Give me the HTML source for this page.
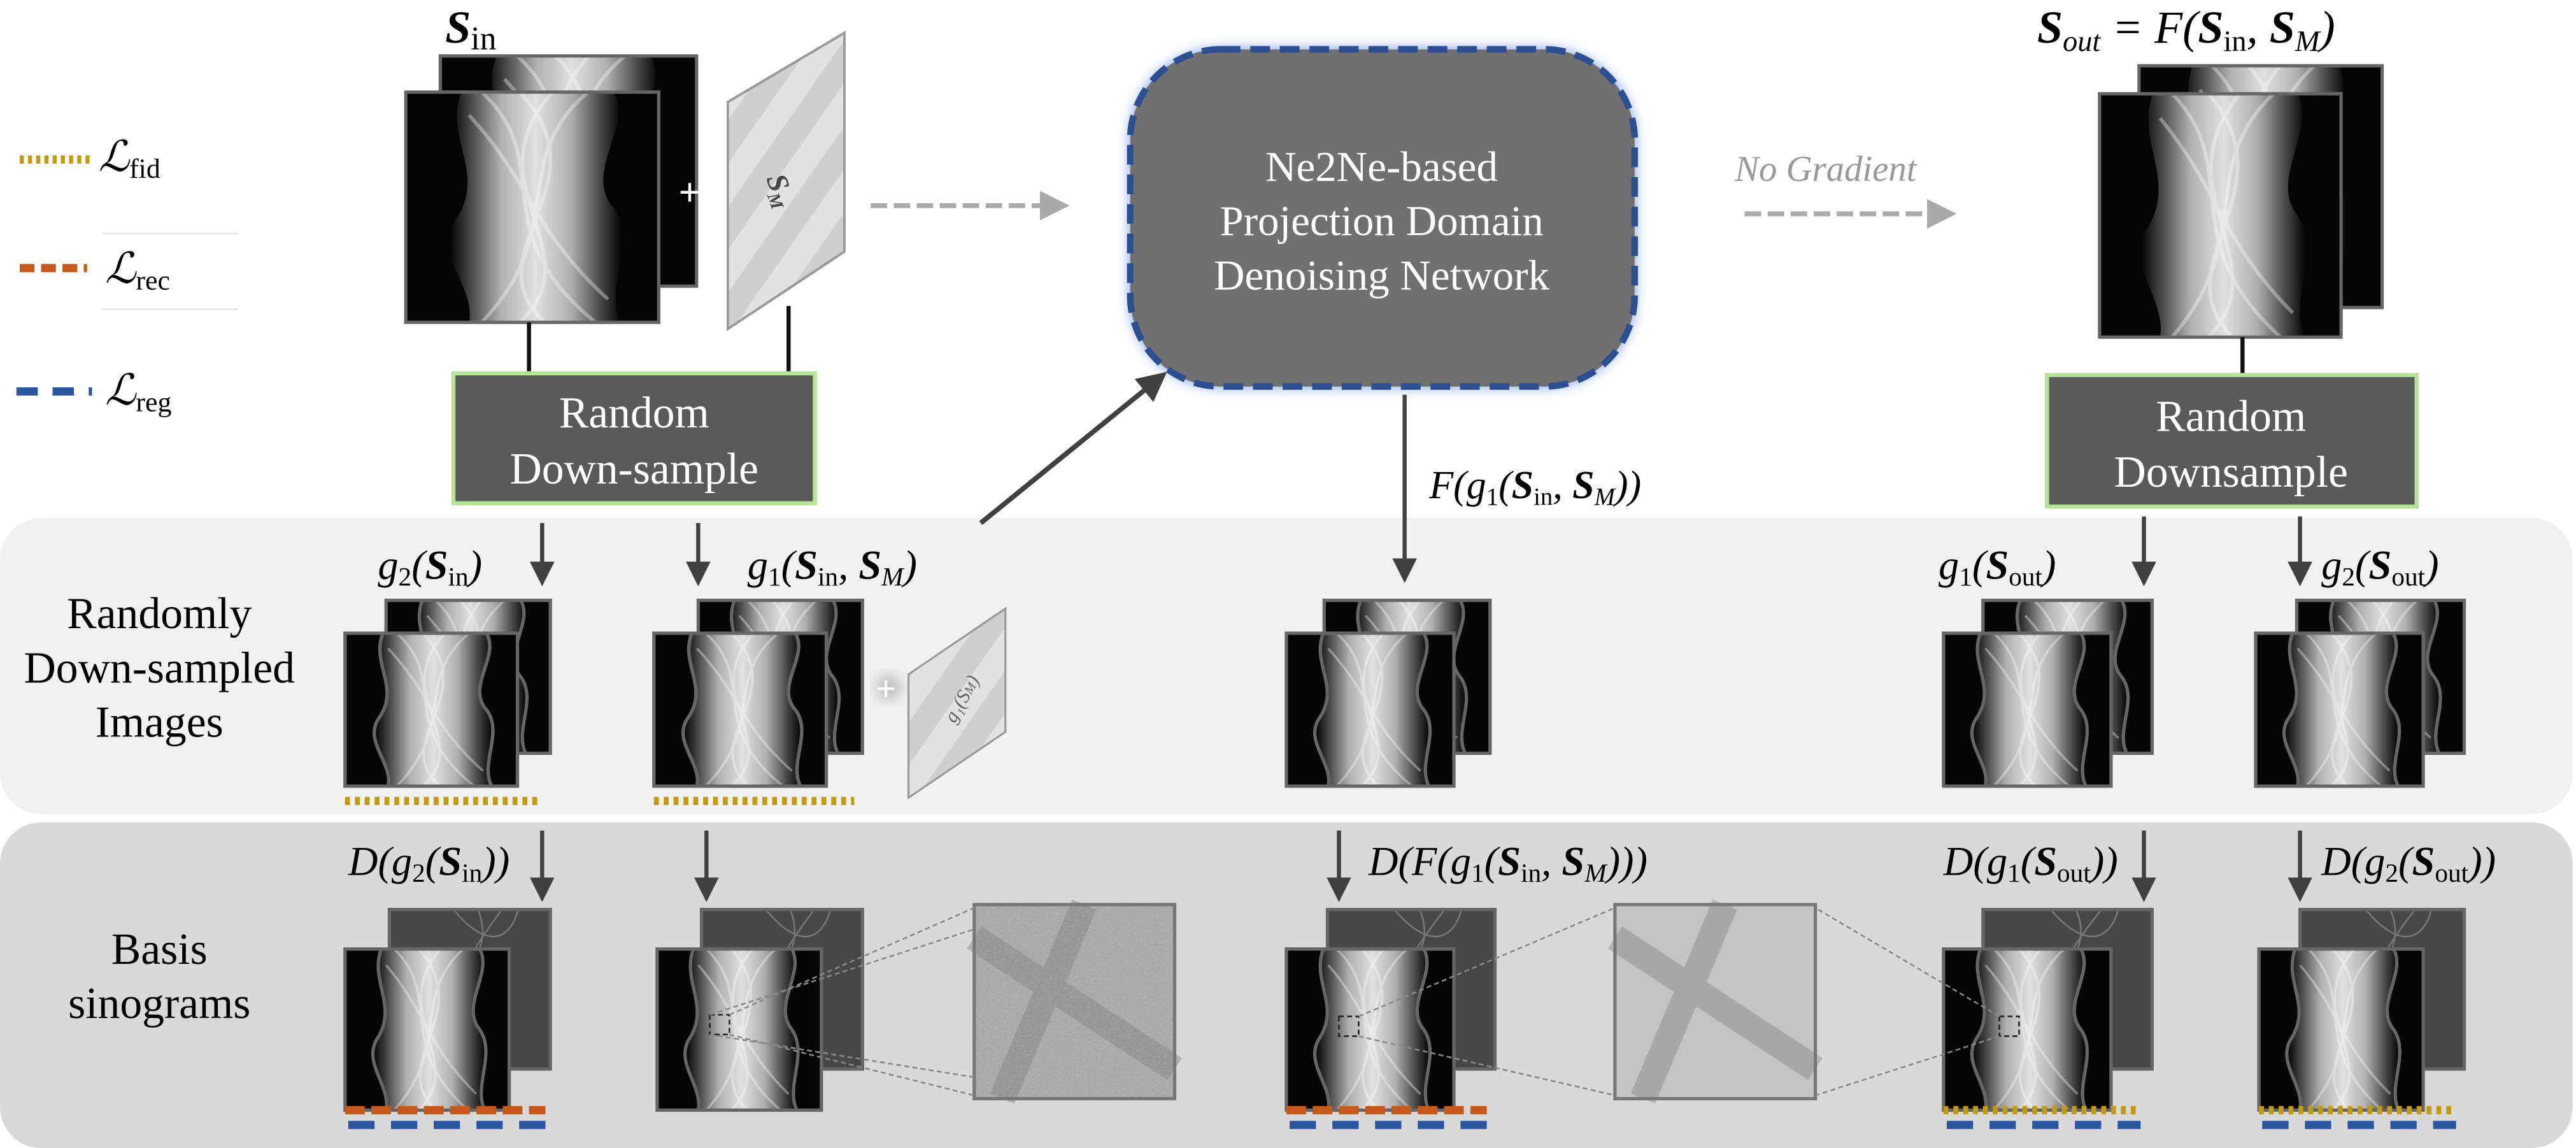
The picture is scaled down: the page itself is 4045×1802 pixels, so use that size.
<!DOCTYPE html>
<html><head><meta charset="utf-8"><style>
html,body{margin:0;padding:0;background:#fff;}
svg{display:block;}
text{font-family:"Liberation Serif","DejaVu Serif",serif;}
</style></head><body>
<svg width="4045" height="1802" viewBox="0 0 1568 698" preserveAspectRatio="none" xmlns="http://www.w3.org/2000/svg">
<defs>
<linearGradient id="band" x1="0" x2="1" y1="0" y2="0">
<stop offset="0" stop-color="#000"/><stop offset="0.12" stop-color="#444"/><stop offset="0.3" stop-color="#b0b0b0"/><stop offset="0.5" stop-color="#e0e0e0"/><stop offset="0.7" stop-color="#b0b0b0"/><stop offset="0.88" stop-color="#444"/><stop offset="1" stop-color="#000"/>
</linearGradient>
<symbol id="sino" viewBox="0 0 100 100" preserveAspectRatio="none">
<rect width="100" height="100" fill="#050505"/>
<path d="M22 0 C15 20 32 35 20 55 C10 70 28 85 25 100 L85 100 C78 85 92 65 82 50 C70 35 90 15 82 0 Z" fill="url(#band)"/>
<path d="M30 0 C60 30 30 60 75 100 M72 0 C40 30 65 60 30 100 M45 0 C80 40 25 70 55 100 M58 0 C25 40 75 70 45 100 M25 10 C50 40 50 60 80 90" stroke="#fff" stroke-opacity="0.35" stroke-width="1.5" fill="none"/>
</symbol>
<symbol id="dark" viewBox="0 0 100 100" preserveAspectRatio="none">
<rect width="100" height="100" fill="#474747"/>
<path d="M40 0 C60 25 75 20 80 0 M55 0 C65 25 45 30 60 40 M70 0 C55 20 50 30 45 40" stroke="#777" stroke-width="1" fill="none"/>
</symbol>
<pattern id="stripes" width="30" height="30" patternUnits="userSpaceOnUse" patternTransform="rotate(35)">
<rect width="30" height="30" fill="#cfcfcf"/><rect width="15" height="30" fill="#e2e2e2"/>
</pattern>
<filter id="glow" x="-20%" y="-20%" width="140%" height="140%"><feGaussianBlur stdDeviation="4"/></filter>
<filter id="noise"><feTurbulence type="fractalNoise" baseFrequency="0.9" numOctaves="2"/><feColorMatrix type="saturate" values="0"/><feComponentTransfer><feFuncA type="table" tableValues="0 0.35"/></feComponentTransfer><feComposite in2="SourceGraphic" operator="in"/></filter>
<marker id="ah" markerWidth="6" markerHeight="6" refX="5" refY="3" orient="auto"><path d="M0 0 L6 3 L0 6 Z" fill="#404040"/></marker>
<marker id="ahg" markerWidth="6" markerHeight="6" refX="5" refY="3" orient="auto"><path d="M0 0 L6 3 L0 6 Z" fill="#aaa"/></marker>
</defs>

<rect x="0" y="315" width="1566" height="180" rx="25" fill="#f1f1f1"/>
<rect x="0" y="500" width="1566" height="198" rx="25" fill="#d9d9d9"/>

<g>
<line x1="12" y1="97" x2="56" y2="97" stroke="#c49a12" stroke-width="5" stroke-dasharray="2.5 2.5"/>
<text x="60" y="104" font-size="26" font-style="italic">ℒ<tspan font-size="17" font-style="normal" dy="4">fid</tspan></text>
<line x1="12" y1="163" x2="53" y2="163" stroke="#c5581b" stroke-width="5" stroke-dasharray="9 4"/>
<line x1="62" y1="142" x2="145" y2="142" stroke="#ddd" stroke-width="0.8"/>
<line x1="62" y1="188" x2="145" y2="188" stroke="#ddd" stroke-width="0.8"/>
<text x="64" y="172" font-size="26" font-style="italic">ℒ<tspan font-size="17" font-style="normal" dy="4">rec</tspan></text>
<line x1="10" y1="238" x2="56" y2="238" stroke="#2c55a0" stroke-width="5" stroke-dasharray="13 9"/>
<text x="64" y="246" font-size="26" font-style="italic">ℒ<tspan font-size="17" font-style="normal" dy="4">reg</tspan></text>
</g>

<text x="271" y="26" font-size="28" font-weight="bold" font-style="italic">S<tspan font-size="20" font-weight="normal" font-style="normal" dy="4">in</tspan></text>
<g>
<use href="#sino" x="268" y="34" width="156" height="140"/>
<rect x="268" y="34" width="156" height="140" fill="none" stroke="#666" stroke-width="2"/>
<use href="#sino" x="247" y="56" width="154" height="140"/>
<rect x="247" y="56" width="154" height="140" fill="none" stroke="#666" stroke-width="2"/>
</g>
<text x="413" y="125" font-size="24" fill="#fff" font-weight="bold" font-family="Liberation Sans">+</text>
<g>
<polygon points="443,62 514,20 514,153 443,200" fill="url(#stripes)" stroke="#999" stroke-width="1.5"/>
<text x="468" y="118" font-size="18" font-style="italic" font-weight="bold" fill="#444" transform="rotate(70 474 112)">S<tspan font-size="11" dy="3">M</tspan></text>
</g>
<line x1="322" y1="196" x2="322" y2="228" stroke="#111" stroke-width="2.5"/>
<line x1="480" y1="186" x2="480" y2="228" stroke="#111" stroke-width="2.5"/>
<g>
<rect x="276" y="227" width="220" height="79" fill="#5a5a5a" stroke="#b5e39a" stroke-width="2.5"/>
<text x="386" y="260" font-size="27" fill="#fff" text-anchor="middle">Random</text>
<text x="386" y="294" font-size="27" fill="#fff" text-anchor="middle">Down-sample</text>
</g>
<line x1="530" y1="125" x2="648" y2="125" stroke="#aaa" stroke-width="3" stroke-dasharray="10 4" marker-end="url(#ahg)"/>

<g>
<rect x="688" y="30" width="307" height="205" rx="55" fill="#4a7bd8" filter="url(#glow)" opacity="0.8"/>
<rect x="688" y="30" width="307" height="205" rx="55" fill="#707070" stroke="#2d4f92" stroke-width="4" stroke-dasharray="12 6"/>
<text x="841" y="110" font-size="26" fill="#fff" text-anchor="middle">Ne2Ne-based</text>
<text x="841" y="143" font-size="26" fill="#fff" text-anchor="middle">Projection Domain</text>
<text x="841" y="176" font-size="26" fill="#fff" text-anchor="middle">Denoising Network</text>
</g>
<text x="1056" y="110" font-size="22" font-style="italic" fill="#999">No Gradient</text>
<line x1="1062" y1="130" x2="1188" y2="130" stroke="#aaa" stroke-width="3" stroke-dasharray="10 4" marker-end="url(#ahg)"/>
<line x1="597" y1="318" x2="708" y2="228" stroke="#404040" stroke-width="3" marker-end="url(#ah)"/>
<line x1="855" y1="240" x2="855" y2="352" stroke="#404040" stroke-width="2.5" marker-end="url(#ah)"/>
<text x="870" y="303" font-size="24" font-style="italic">F(g<tspan font-size="15" font-style="normal" dy="4">1</tspan><tspan dy="-4">(</tspan><tspan font-weight="bold">S</tspan><tspan font-size="15" font-style="normal" dy="4">in</tspan><tspan dy="-4">, </tspan><tspan font-weight="bold">S</tspan><tspan font-size="15" dy="4">M</tspan><tspan dy="-4">))</tspan></text>

<text x="1240" y="26" font-size="28" font-style="italic"><tspan font-weight="bold">S</tspan><tspan font-size="18" dy="5">out</tspan><tspan dy="-5"> = F(</tspan><tspan font-weight="bold">S</tspan><tspan font-size="18" font-style="normal" dy="5">in</tspan><tspan dy="-5">, </tspan><tspan font-weight="bold">S</tspan><tspan font-size="18" dy="5">M</tspan><tspan dy="-5">)</tspan></text>
<g>
<use href="#sino" x="1302" y="40" width="148" height="147"/>
<rect x="1302" y="40" width="148" height="147" fill="none" stroke="#666" stroke-width="2"/>
<use href="#sino" x="1278" y="57" width="147" height="148"/>
<rect x="1278" y="57" width="147" height="148" fill="none" stroke="#666" stroke-width="2"/>
</g>
<line x1="1365" y1="205" x2="1365" y2="228" stroke="#111" stroke-width="2.5"/>
<g>
<rect x="1246" y="228" width="225" height="80" fill="#5a5a5a" stroke="#b5e39a" stroke-width="2.5"/>
<text x="1358" y="262" font-size="27" fill="#fff" text-anchor="middle">Random</text>
<text x="1358" y="296" font-size="27" fill="#fff" text-anchor="middle">Downsample</text>
</g>

<text x="97" y="382" font-size="27" text-anchor="middle"><tspan x="97">Randomly</tspan><tspan x="97" dy="33">Down-sampled</tspan><tspan x="97" dy="33">Images</tspan></text>
<g stroke="#404040" stroke-width="2.5">
<line x1="330" y1="318" x2="330" y2="354" marker-end="url(#ah)"/>
<line x1="425" y1="318" x2="425" y2="354" marker-end="url(#ah)"/>
<line x1="1305" y1="314" x2="1305" y2="354" marker-end="url(#ah)"/>
<line x1="1400" y1="314" x2="1400" y2="354" marker-end="url(#ah)"/>
</g>
<g font-size="25" font-style="italic">
<text x="230" y="352">g<tspan font-size="16" font-style="normal" dy="4">2</tspan><tspan dy="-4">(</tspan><tspan font-weight="bold">S</tspan><tspan font-size="16" font-style="normal" dy="4">in</tspan><tspan dy="-4">)</tspan></text>
<text x="455" y="352">g<tspan font-size="16" font-style="normal" dy="4">1</tspan><tspan dy="-4">(</tspan><tspan font-weight="bold">S</tspan><tspan font-size="16" font-style="normal" dy="4">in</tspan><tspan dy="-4">, </tspan><tspan font-weight="bold">S</tspan><tspan font-size="16" dy="4">M</tspan><tspan dy="-4">)</tspan></text>
<text x="1180" y="352">g<tspan font-size="16" font-style="normal" dy="4">1</tspan><tspan dy="-4">(</tspan><tspan font-weight="bold">S</tspan><tspan font-size="16" font-style="normal" dy="4">out</tspan><tspan dy="-4">)</tspan></text>
<text x="1413" y="352">g<tspan font-size="16" font-style="normal" dy="4">2</tspan><tspan dy="-4">(</tspan><tspan font-weight="bold">S</tspan><tspan font-size="16" font-style="normal" dy="4">out</tspan><tspan dy="-4">)</tspan></text>
</g>
<g stroke="#666" stroke-width="2">
<use href="#sino" x="235" y="365" width="100" height="93"/><rect x="235" y="365" width="100" height="93" fill="none"/>
<use href="#sino" x="210" y="385" width="105" height="93"/><rect x="210" y="385" width="105" height="93" fill="none"/>
<use href="#sino" x="425" y="365" width="100" height="93"/><rect x="425" y="365" width="100" height="93" fill="none"/>
<use href="#sino" x="398" y="385" width="105" height="93"/><rect x="398" y="385" width="105" height="93" fill="none"/>
<use href="#sino" x="806" y="365" width="101" height="93"/><rect x="806" y="365" width="101" height="93" fill="none"/>
<use href="#sino" x="783" y="385" width="102" height="93"/><rect x="783" y="385" width="102" height="93" fill="none"/>
<use href="#sino" x="1207" y="365" width="103" height="93"/><rect x="1207" y="365" width="103" height="93" fill="none"/>
<use href="#sino" x="1183" y="385" width="102" height="93"/><rect x="1183" y="385" width="102" height="93" fill="none"/>
<use href="#sino" x="1398" y="365" width="102" height="93"/><rect x="1398" y="365" width="102" height="93" fill="none"/>
<use href="#sino" x="1373" y="385" width="102" height="93"/><rect x="1373" y="385" width="102" height="93" fill="none"/>
</g>
<circle cx="541" cy="418" r="8" fill="#777" opacity="0.4" filter="url(#glow)"/>
<text x="533" y="426" font-size="22" fill="#fff" font-weight="bold" font-family="Liberation Sans">+</text>
<polygon points="553,410 612,370 612,445 553,485" fill="url(#stripes)" stroke="#999" stroke-width="1.2"/>
<text x="570" y="435" font-size="12" font-style="italic" fill="#666" transform="rotate(-60 580 428)">g₁(S<tspan font-size="8">M</tspan>)</text>
<line x1="210" y1="487" x2="330" y2="487" stroke="#c49a12" stroke-width="5" stroke-dasharray="3 3"/>
<line x1="398" y1="487" x2="520" y2="487" stroke="#c49a12" stroke-width="5" stroke-dasharray="3 3"/>

<text x="97" y="586" font-size="27" text-anchor="middle"><tspan x="97">Basis</tspan><tspan x="97" dy="33">sinograms</tspan></text>
<g stroke="#404040" stroke-width="2.5">
<line x1="330" y1="505" x2="330" y2="546" marker-end="url(#ah)"/>
<line x1="430" y1="505" x2="430" y2="546" marker-end="url(#ah)"/>
<line x1="815" y1="505" x2="815" y2="546" marker-end="url(#ah)"/>
<line x1="1305" y1="505" x2="1305" y2="546" marker-end="url(#ah)"/>
<line x1="1400" y1="505" x2="1400" y2="546" marker-end="url(#ah)"/>
</g>
<g font-size="25" font-style="italic">
<text x="212" y="532">D(g<tspan font-size="16" font-style="normal" dy="4">2</tspan><tspan dy="-4">(</tspan><tspan font-weight="bold">S</tspan><tspan font-size="16" font-style="normal" dy="4">in</tspan><tspan dy="-4">))</tspan></text>
<text x="833" y="532">D(F(g<tspan font-size="16" font-style="normal" dy="4">1</tspan><tspan dy="-4">(</tspan><tspan font-weight="bold">S</tspan><tspan font-size="16" font-style="normal" dy="4">in</tspan><tspan dy="-4">, </tspan><tspan font-weight="bold">S</tspan><tspan font-size="16" dy="4">M</tspan><tspan dy="-4">)))</tspan></text>
<text x="1183" y="532">D(g<tspan font-size="16" font-style="normal" dy="4">1</tspan><tspan dy="-4">(</tspan><tspan font-weight="bold">S</tspan><tspan font-size="16" font-style="normal" dy="4">out</tspan><tspan dy="-4">))</tspan></text>
<text x="1413" y="532">D(g<tspan font-size="16" font-style="normal" dy="4">2</tspan><tspan dy="-4">(</tspan><tspan font-weight="bold">S</tspan><tspan font-size="16" font-style="normal" dy="4">out</tspan><tspan dy="-4">))</tspan></text>
</g>
<g stroke="#666" stroke-width="2">
<use href="#dark" x="237" y="553" width="98" height="97"/><rect x="237" y="553" width="98" height="97" fill="none"/>
<use href="#sino" x="210" y="577" width="100" height="98"/><rect x="210" y="577" width="100" height="98" fill="none"/>
<use href="#dark" x="427" y="553" width="98" height="97"/><rect x="427" y="553" width="98" height="97" fill="none"/>
<use href="#sino" x="400" y="577" width="100" height="98"/><rect x="400" y="577" width="100" height="98" fill="none"/>
<use href="#dark" x="808" y="553" width="102" height="97"/><rect x="808" y="553" width="102" height="97" fill="none"/>
<use href="#sino" x="783" y="577" width="102" height="98"/><rect x="783" y="577" width="102" height="98" fill="none"/>
<use href="#dark" x="1207" y="553" width="103" height="97"/><rect x="1207" y="553" width="103" height="97" fill="none"/>
<use href="#sino" x="1183" y="577" width="102" height="98"/><rect x="1183" y="577" width="102" height="98" fill="none"/>
<use href="#dark" x="1400" y="553" width="100" height="97"/><rect x="1400" y="553" width="100" height="97" fill="none"/>
<use href="#sino" x="1375" y="577" width="100" height="98"/><rect x="1375" y="577" width="100" height="98" fill="none"/>
</g>
<g>
<rect x="593" y="550" width="122" height="118" fill="#a8a8a8"/>
<path d="M593 570 L715 650 M660 550 L610 668" stroke="#6a6a6a" stroke-width="16" opacity="0.35"/>
<rect x="593" y="550" width="122" height="118" fill="#fff" filter="url(#noise)"/>
<rect x="593" y="550" width="122" height="118" fill="none" stroke="#777" stroke-width="2"/>
<rect x="983" y="550" width="122" height="118" fill="#c4c4c4"/>
<path d="M983 570 L1105 650 M1050 550 L1000 668" stroke="#777" stroke-width="16" opacity="0.35"/>
<rect x="983" y="550" width="122" height="118" fill="none" stroke="#777" stroke-width="2"/>
<g stroke="#888" stroke-width="1" stroke-dasharray="3 2" fill="none">
<rect x="432" y="617" width="12" height="12" stroke="#222"/>
<line x1="444" y1="617" x2="593" y2="552"/><line x1="444" y1="629" x2="593" y2="666"/>
<line x1="432" y1="617" x2="593" y2="565"/><line x1="432" y1="629" x2="593" y2="655"/>
<rect x="815" y="618" width="12" height="12" stroke="#222"/>
<line x1="827" y1="618" x2="983" y2="552"/><line x1="827" y1="630" x2="983" y2="666"/>
<rect x="1217" y="618" width="12" height="12" stroke="#222"/>
<line x1="1217" y1="618" x2="1105" y2="552"/><line x1="1217" y1="630" x2="1105" y2="666"/>
</g>
</g>
<g>
<line x1="210" y1="675" x2="332" y2="675" stroke="#c5581b" stroke-width="5" stroke-dasharray="12 4"/>
<line x1="212" y1="684" x2="332" y2="684" stroke="#2c55a0" stroke-width="5" stroke-dasharray="16 10"/>
<line x1="783" y1="675" x2="905" y2="675" stroke="#c5581b" stroke-width="5" stroke-dasharray="12 4"/>
<line x1="785" y1="684" x2="905" y2="684" stroke="#2c55a0" stroke-width="5" stroke-dasharray="16 10"/>
<line x1="1183" y1="675" x2="1303" y2="675" stroke="#c49a12" stroke-width="5" stroke-dasharray="3 3"/>
<line x1="1185" y1="684" x2="1303" y2="684" stroke="#2c55a0" stroke-width="5" stroke-dasharray="16 10"/>
<line x1="1375" y1="675" x2="1495" y2="675" stroke="#c49a12" stroke-width="5" stroke-dasharray="3 3"/>
<line x1="1377" y1="684" x2="1495" y2="684" stroke="#2c55a0" stroke-width="5" stroke-dasharray="16 10"/>
</g>
</svg>
</body></html>
